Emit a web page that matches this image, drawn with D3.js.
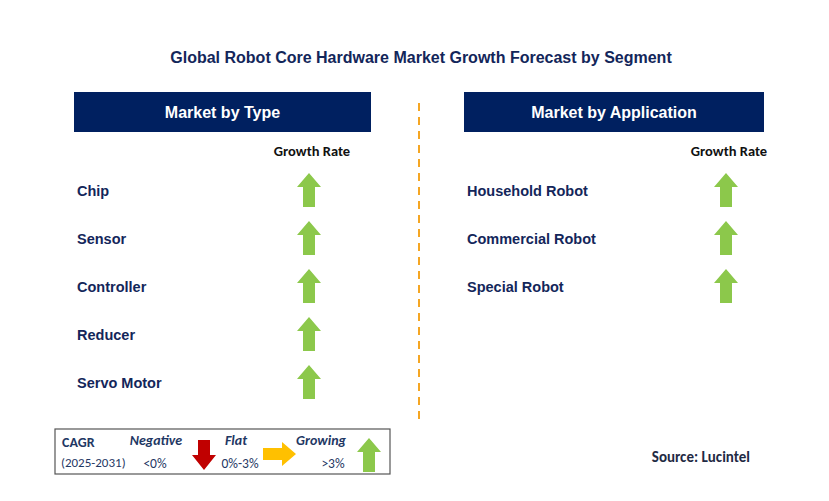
<!DOCTYPE html><html><head><meta charset="utf-8">
<script src="https://cdn.jsdelivr.net/npm/d3@7"></script>
<style>body{margin:0;background:#fff}svg{font-family:Calibri,Carlito,"Liberation Sans",Arial,sans-serif}</style></head><body>
<svg id="c" width="829" height="501"></svg>
<script>
const title="Global Robot Core Hardware Market Growth Forecast by Segment";
const typeCategories=["Chip","Sensor","Controller","Reducer","Servo Motor"];
const typeGrowth=["up","up","up","up","up"];
const appCategories=["Household Robot","Commercial Robot","Special Robot"];
const appGrowth=["up","up","up"];
const panelTitles=["Market by Type","Market by Application"];
const legendLabels=["Negative","Flat","Growing"];
const legendRanges=["<0%","0%-3%",">3%"];
const svg=d3.select("#c");
const navy="#002060";
svg.append("text").attr("x",421).attr("y",63).attr("text-anchor","middle").attr("font-size",16).attr("font-weight","bold").attr("fill","#13265a").attr("font-family","Arial, Liberation Sans").text(title);
const y=d3.scalePoint().domain(d3.range(5)).range([190,382]);
function up(g,cx,cy){g.append("path").attr("d",`M${cx},${cy-17} L${cx+12},${cy-3} L${cx+6},${cy-3} L${cx+6},${cy+17} L${cx-6},${cy+17} L${cx-6},${cy-3} L${cx-12},${cy-3}Z`).attr("fill","#8cc84b");}
function panel(x0,w,t,cats,gr,arrowX){
 svg.append("rect").attr("x",x0).attr("y",92).attr("width",w).attr("height",40).attr("fill",navy);
 svg.append("text").attr("x",x0+w/2).attr("y",118).attr("text-anchor","middle").attr("fill","#fff").attr("font-size",16).attr("font-weight","bold").attr("font-family","Arial, Liberation Sans").text(t);
 svg.append("text").attr("x",arrowX+3).attr("y",156).attr("text-anchor","middle").attr("font-size",14.5).attr("font-weight","bold").attr("fill","#111").text("Growth Rate");
 cats.forEach((c,i)=>{
  svg.append("text").attr("x",x0+3).attr("y",y(i)+6).attr("font-size",14.5).attr("font-weight","bold").attr("fill","#13265a").attr("font-family","Arial, Liberation Sans").text(c);
  if(gr[i]==="up") up(svg,arrowX,y(i));
 });
}
panel(74,297,panelTitles[0],typeCategories,typeGrowth,309);
panel(464,300,panelTitles[1],appCategories,appGrowth,726);
svg.append("line").attr("x1",419).attr("x2",419).attr("y1",103).attr("y2",420).attr("stroke","#f5a623").attr("stroke-width",2).attr("stroke-dasharray","8,6");
svg.append("rect").attr("x",55).attr("y",429).attr("width",335).attr("height",45).attr("fill","#fff").attr("stroke","#555").attr("stroke-width",1.2);
const lc="#1f3864";
svg.append("text").attr("x",62).attr("y",447).attr("font-size",14).attr("font-weight","bold").attr("fill",lc).text("CAGR");
svg.append("text").attr("x",61).attr("y",467).attr("font-size",13).attr("fill",lc).text("(2025-2031)");
const lx=[156,236,321];
legendLabels.forEach((l,i)=>{
 svg.append("text").attr("x",lx[i]).attr("y",445).attr("text-anchor","middle").attr("font-size",14).attr("font-style","italic").attr("font-weight","bold").attr("fill",lc).text(l);
 svg.append("text").attr("x",lx[i]+(i==0?-1:i==1?4:12)).attr("y",468).attr("text-anchor","middle").attr("font-size",13.5).attr("fill",lc).text(legendRanges[i]);
});
svg.append("path").attr("d","M198,440 L210,440 L210,455 L216,455 L204,470 L192,455 L198,455Z").attr("fill","#c00000");
svg.append("path").attr("d","M263,448 L282,448 L282,442 L296,454 L282,466 L282,460 L263,460Z").attr("fill","#ffc000");
up(svg,369,455);
svg.append("text").attr("x",750).attr("y",462).attr("text-anchor","end").attr("font-size",15).attr("font-weight","bold").attr("fill","#1f2a44").text("Source: Lucintel");
</script></body></html>
